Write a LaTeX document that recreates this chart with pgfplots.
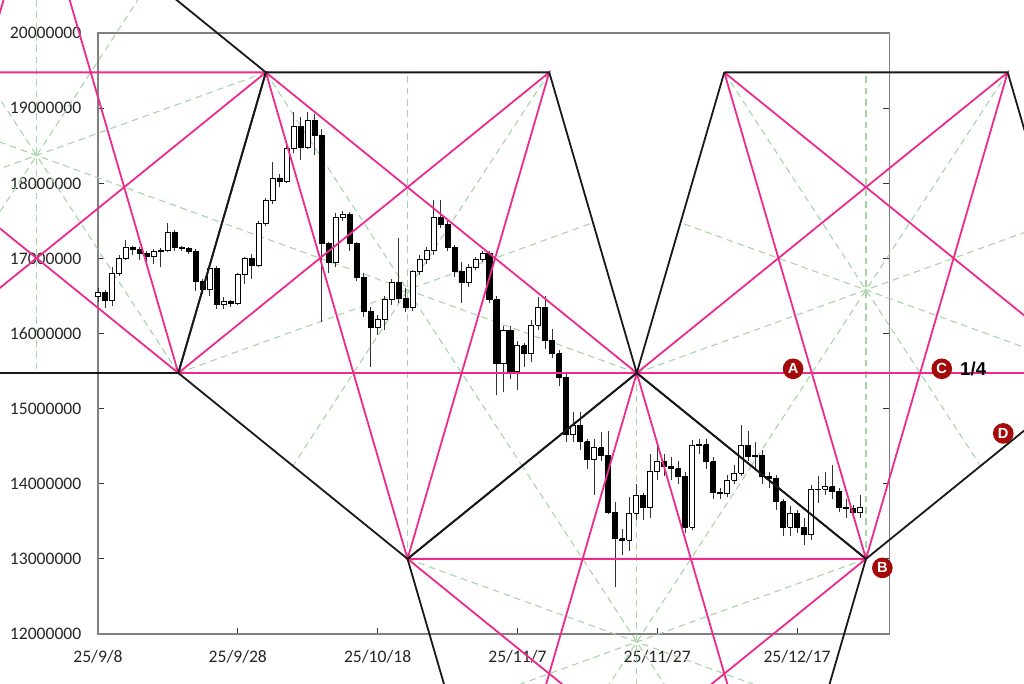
\documentclass[border=0pt]{standalone}
\usepackage{fontspec}
\setmainfont{Carlito}
\newfontfamily\lblfont{Liberation Sans}
\usepackage{pgfplots}
\usepackage{pgfplotstable}
\pgfplotsset{compat=1.18}
\definecolor{gpink}{RGB}{238,42,140}
\definecolor{ggreen}{RGB}{165,212,165}
\definecolor{mred}{RGB}{165,10,10}
\definecolor{axgray}{RGB}{128,128,128}
\pgfplotstableread{
d o h l c
0 16.49 16.60 16.42 16.54
1 16.54 16.58 16.34 16.44
2 16.44 16.88 16.36 16.80
3 16.80 17.04 16.76 17.00
4 17.00 17.24 16.98 17.15
5 17.15 17.17 17.05 17.12
6 17.12 17.15 16.98 17.06
7 17.06 17.10 16.94 17.02
8 17.02 17.12 16.92 17.09
9 17.09 17.14 16.88 17.10
10 17.10 17.47 17.08 17.34
11 17.34 17.38 17.10 17.14
12 17.14 17.16 17.10 17.13
13 17.13 17.15 17.06 17.09
14 17.09 17.12 16.57 16.69
15 16.69 16.72 16.52 16.58
16 16.58 16.92 16.50 16.87
17 16.87 16.90 16.33 16.38
18 16.38 16.48 16.33 16.42
19 16.42 16.45 16.35 16.40
20 16.40 16.80 16.38 16.78
21 16.78 17.02 16.66 17.00
22 17.00 17.06 16.72 16.91
23 16.91 17.50 16.88 17.47
24 17.47 17.80 17.43 17.77
25 17.77 18.28 17.72 18.07
26 18.07 18.12 17.95 18.02
27 18.02 18.53 18.00 18.46
28 18.46 18.95 18.40 18.75
29 18.75 18.88 18.31 18.48
30 18.48 18.95 18.45 18.83
31 18.83 18.92 18.37 18.64
32 18.64 18.72 16.15 17.20
33 17.20 17.22 16.80 16.94
34 16.94 17.60 16.88 17.54
35 17.54 17.63 17.50 17.58
36 17.58 17.62 17.10 17.20
37 17.20 17.22 16.70 16.75
38 16.75 16.80 16.22 16.29
39 16.29 16.35 15.55 16.08
40 16.08 16.25 15.98 16.19
41 16.19 16.50 16.05 16.45
42 16.45 16.72 16.38 16.68
43 16.68 17.27 16.40 16.46
44 16.46 16.60 16.28 16.35
45 16.35 16.85 16.30 16.82
46 16.82 17.05 16.78 16.98
47 16.98 17.15 16.92 17.10
48 17.10 17.78 17.05 17.54
49 17.54 17.78 17.40 17.45
50 17.45 17.50 17.10 17.15
51 17.15 17.18 16.75 16.82
52 16.82 16.95 16.41 16.68
53 16.68 16.92 16.62 16.88
54 16.88 17.02 16.84 16.98
55 16.98 17.10 16.95 17.07
56 17.07 17.10 16.40 16.45
57 16.45 16.50 15.18 15.60
58 15.60 16.10 15.22 16.04
59 16.04 16.10 15.40 15.49
60 15.49 15.90 15.25 15.84
61 15.84 15.88 15.55 15.73
62 15.73 16.18 15.62 16.11
63 16.11 16.48 16.05 16.35
64 16.35 16.50 15.80 15.91
65 15.91 16.06 15.68 15.73
66 15.73 15.78 15.30 15.42
67 15.42 15.46 14.55 14.65
68 14.65 14.95 14.55 14.78
69 14.78 14.95 14.45 14.56
70 14.56 14.60 14.20 14.32
71 14.32 14.60 13.85 14.48
72 14.48 14.69 14.30 14.38
73 14.38 14.70 13.60 13.62
74 13.62 13.76 12.63 13.27
75 13.27 13.40 13.05 13.25
76 13.25 13.82 13.10 13.61
77 13.61 14.00 13.52 13.85
78 13.85 13.88 13.52 13.68
79 13.68 14.40 13.55 14.16
80 14.16 14.50 14.05 14.29
81 14.29 14.40 14.10 14.23
82 14.23 14.35 14.05 14.20
83 14.20 14.30 14.00 14.10
84 14.10 14.15 13.35 13.42
85 13.42 14.58 13.38 14.51
86 14.51 14.60 14.40 14.52
87 14.52 14.60 14.20 14.29
88 14.29 14.35 13.80 13.89
89 13.89 13.95 13.80 13.87
90 13.87 14.12 13.82 14.05
91 14.05 14.25 14.00 14.14
92 14.14 14.78 14.10 14.51
93 14.51 14.70 14.30 14.36
94 14.36 14.55 14.20 14.38
95 14.38 14.45 14.00 14.10
96 14.10 14.15 13.95 14.07
97 14.07 14.12 13.65 13.76
98 13.76 13.80 13.30 13.42
99 13.42 13.70 13.30 13.61
100 13.61 13.65 13.35 13.42
101 13.42 13.55 13.18 13.32
102 13.32 13.98 13.25 13.92
103 13.92 14.10 13.75 13.93
104 13.93 14.15 13.85 13.96
105 13.96 14.25 13.80 13.90
106 13.90 13.95 13.62 13.68
107 13.68 13.80 13.55 13.67
108 13.67 13.72 13.55 13.62
109 13.62 13.85 13.55 13.69
}\candles
\pgfplotsset{
  gdash/.style={ggreen, line width=0.8pt, dash pattern=on 5pt off 3.5pt, forget plot},
  pinkl/.style={gpink, line width=1.35pt, forget plot},
  blackl/.style={black!90, line width=1.35pt, forget plot},
  wick/.style={black!80, line width=0.7pt, forget plot},
  body/.style={black, line width=0.7pt, forget plot},
}
\tikzset{
  mlabel/.style={circle, fill=mred, text=white, inner sep=0pt, minimum size=15.5pt, font=\lblfont\bfseries\fontsize{11}{11}\selectfont},
}
\newcommand{\dseg}[4]{\addplot[gdash] coordinates {(#1,#2) (#3,#4)};}
\begin{document}
\begin{tikzpicture}
\path[use as bounding box] (-73.5pt,-37.5pt) rectangle (694.5pt,475.5pt);
\clip (-73.5pt,-37.5pt) rectangle (694.5pt,475.5pt);
\begin{axis}[
  at={(0pt,0pt)}, anchor=south west,
  scale only axis, width=593.5pt, height=450.75pt,
  xmin=0, xmax=113.2, ymin=12, ymax=20,
  clip=false,
  axis line style={axgray, line width=1.1pt},
  xtick={0,20,40,60,80,100},
  xticklabels={25/9/8,25/9/28,25/10/18,25/11/7,25/11/27,25/12/17},
  ytick={12,13,14,15,16,17,18,19,20},
  yticklabels={12000000,13000000,14000000,15000000,16000000,17000000,18000000,19000000,20000000},
  tick align=inside, xtick pos=left, ytick pos=both,
  major tick length=4.5pt,
  tick style={black!80, line width=0.8pt},
  ticklabel style={font=\fontsize{13.2}{15}\selectfont, text=black!85},
  xticklabel shift=9pt, yticklabel shift=9pt,
]
% --- dashed symmetry axes (green) ---
\dseg{-8.78}{21.95}{-8.78}{15.474}
\dseg{24.01}{19.476}{-35.31}{17.475}
\dseg{11.49}{15.474}{-25.175}{20.713}
\dseg{-29.05}{15.474}{7.615}{20.713}
\dseg{-41.57}{19.476}{17.75}{17.475}
\dseg{24.01}{19.476}{60.675}{14.237}
\dseg{64.55}{19.476}{27.885}{14.237}
\dseg{77.07}{15.474}{17.75}{17.475}
\dseg{44.28}{13.0}{44.28}{19.476}
\dseg{11.49}{15.474}{70.81}{17.475}
\dseg{89.59}{19.476}{126.255}{14.237}
\dseg{130.13}{19.476}{93.465}{14.237}
\dseg{142.65}{15.474}{83.33}{17.475}
\dseg{109.86}{13.0}{109.86}{19.476}
\dseg{77.07}{15.474}{136.39}{17.475}
\dseg{77.07}{15.474}{77.07}{8.998}
\dseg{109.86}{13.0}{50.54}{10.999}
\dseg{97.34}{8.998}{60.675}{14.237}
\dseg{56.80}{8.998}{93.465}{14.237}
\dseg{44.28}{13.0}{103.6}{10.999}
% --- candlesticks ---
\pgfplotstablegetrowsof{\candles}
\pgfmathtruncatemacro{\nrows}{\pgfplotsretval-1}
\pgfplotsforeachungrouped \i in {0,...,\nrows}{%
  \pgfplotstablegetelem{\i}{d}\of\candles \let\cd\pgfplotsretval
  \pgfplotstablegetelem{\i}{o}\of\candles \let\co\pgfplotsretval
  \pgfplotstablegetelem{\i}{h}\of\candles \let\ch\pgfplotsretval
  \pgfplotstablegetelem{\i}{l}\of\candles \let\cl\pgfplotsretval
  \pgfplotstablegetelem{\i}{c}\of\candles \let\cc\pgfplotsretval
  \pgfmathsetmacro\xl{\cd-0.36}%
  \pgfmathsetmacro\xr{\cd+0.36}%
  \ifdim\cc pt<\co pt \def\fc{black}\else\def\fc{white}\fi
  \edef\doit{%
    \noexpand\addplot[wick] coordinates {(\cd,\cl) (\cd,\ch)};
    \noexpand\addplot[body, fill=\fc] coordinates {(\xl,\co) (\xr,\co) (\xr,\cc) (\xl,\cc) (\xl,\co)};
  }%
  \doit
}
% --- pentagrams (pink) ---
\addplot[pinkl] coordinates {(-8.78,21.95) (11.49,15.474) (-41.57,19.476) (24.01,19.476) (-29.05,15.474) (-8.78,21.95)};
\addplot[pinkl] coordinates {(24.01,19.476) (77.07,15.474) (11.49,15.474) (64.55,19.476) (44.28,13.0) (24.01,19.476)};
\addplot[pinkl] coordinates {(89.59,19.476) (142.65,15.474) (77.07,15.474) (130.13,19.476) (109.86,13.0) (89.59,19.476)};
\addplot[pinkl] coordinates {(77.07,15.474) (97.34,8.998) (44.28,13.0) (109.86,13.0) (56.80,8.998) (77.07,15.474)};
% --- pentagon edges (black) ---
\addplot[blackl] coordinates {(-8.78,21.95) (24.01,19.476) (11.49,15.474) (-29.05,15.474) (-41.57,19.476) (-8.78,21.95)};
\addplot[blackl] coordinates {(24.01,19.476) (64.55,19.476) (77.07,15.474) (44.28,13.0) (11.49,15.474) (24.01,19.476)};
\addplot[blackl] coordinates {(89.59,19.476) (130.13,19.476) (142.65,15.474) (109.86,13.0) (77.07,15.474) (89.59,19.476)};
\addplot[blackl] coordinates {(77.07,15.474) (109.86,13.0) (97.34,8.998) (56.80,8.998) (44.28,13.0) (77.07,15.474)};
% --- labels ---
\node[mlabel] at (axis cs:99.43,15.53) {A};
\node[mlabel] at (axis cs:112.2,12.88) {B};
\node[mlabel] at (axis cs:120.7,15.53) {C};
\node[mlabel] at (axis cs:129.5,14.67) {D};
\node[anchor=west, inner sep=0pt, font=\lblfont\bfseries\fontsize{14}{14}\selectfont] at (axis cs:123.3,15.53) {1/4};
\end{axis}
\end{tikzpicture}
\end{document}
